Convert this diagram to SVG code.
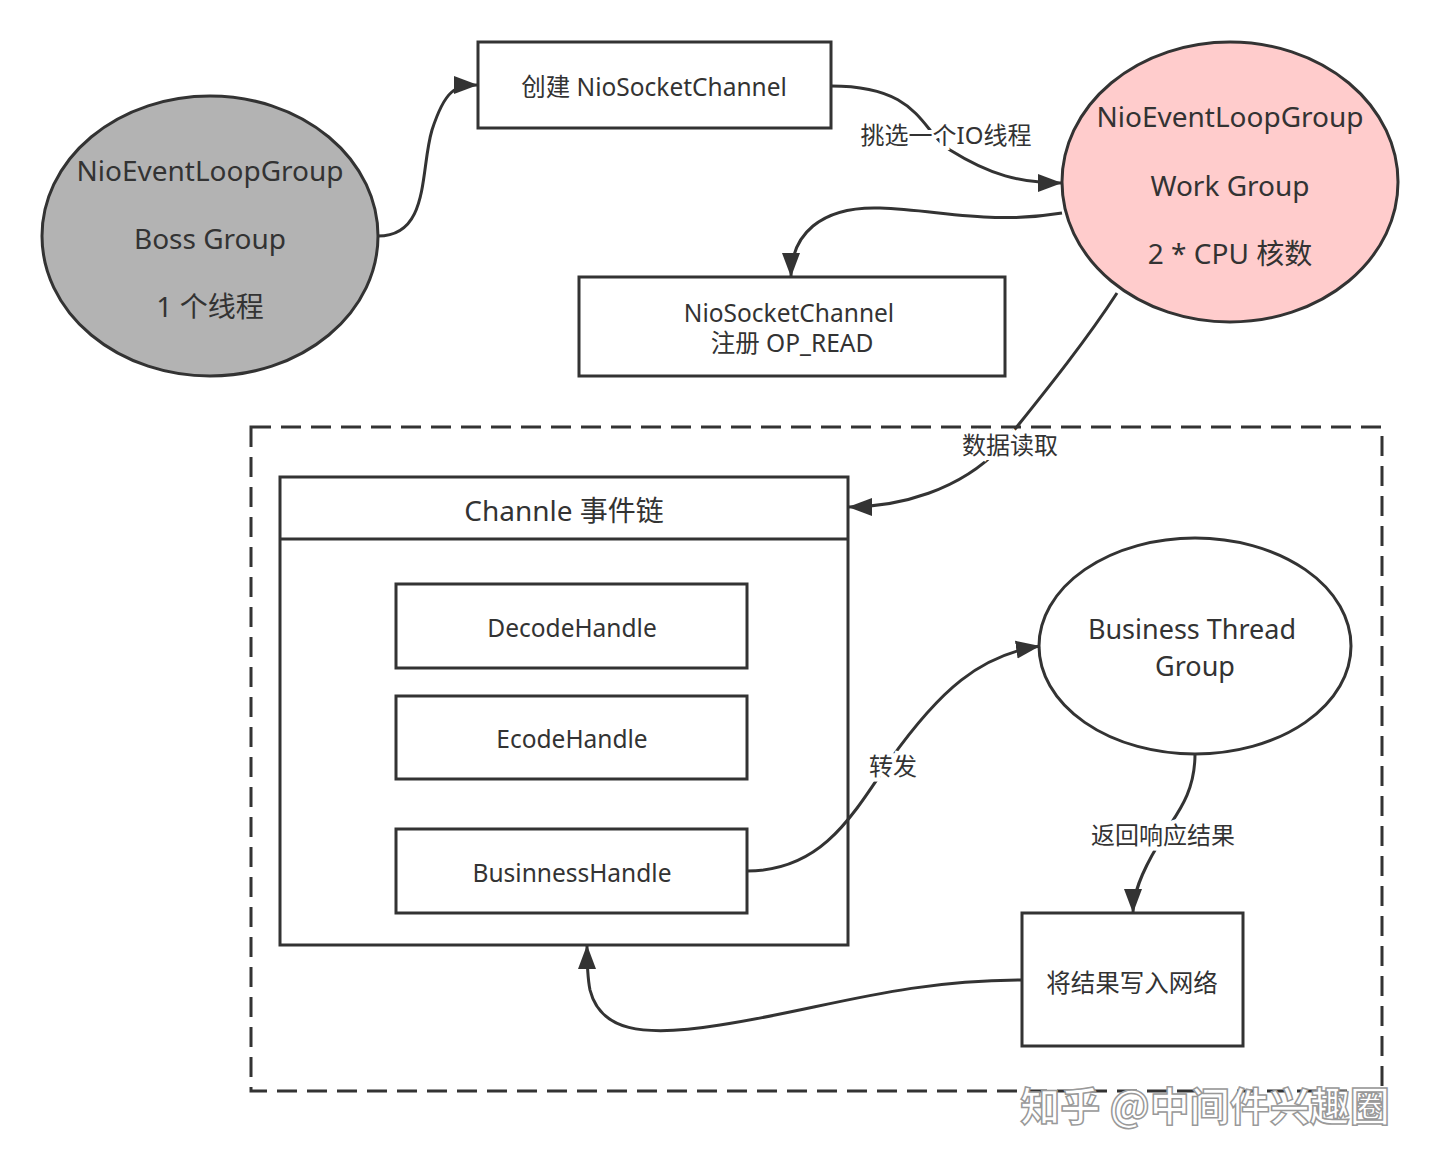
<svg xmlns="http://www.w3.org/2000/svg" width="1440" height="1164" viewBox="0 0 1440 1164">
<defs>
<marker id="arr" markerUnits="userSpaceOnUse" markerWidth="26" markerHeight="20" refX="24" refY="10" orient="auto">
<path d="M0,1 L24,10 L0,19 Z" fill="#333"/>
</marker>
<style>
.n{stroke:#333;stroke-width:3;}
.t{font-family:"Noto Sans","Noto Sans CJK SC",sans-serif;fill:#333;text-anchor:middle;}
.big{font-size:28px;}
.mid{font-size:24.5px;}
.c{fill:none;stroke:#333;stroke-width:3;marker-end:url(#arr);}
.lbl{font-family:"Noto Sans","Noto Sans CJK SC",sans-serif;fill:#333;text-anchor:middle;font-size:24px;stroke:#fff;stroke-width:8px;paint-order:stroke;}
</style>
</defs>
<rect width="1440" height="1164" fill="#fff"/>
<g id="container">
<rect x="251" y="427" width="1131" height="664" fill="none" stroke="#333" stroke-width="3" stroke-dasharray="20 10"/>
</g>
<g id="boss">
<ellipse cx="210" cy="236" rx="168" ry="140" fill="#b3b3b3" class="n"/>
<text class="t big" x="210" y="181">NioEventLoopGroup</text>
<text class="t big" x="210" y="249">Boss Group</text>
<text class="t big" x="210" y="317">1 个线程</text>
</g>
<g id="create">
<rect x="478" y="42" width="353" height="86" fill="#fff" class="n"/>
<text class="t mid" x="654" y="96">创建 NioSocketChannel</text>
</g>
<g id="work">
<ellipse cx="1230" cy="182" rx="168" ry="140" fill="#ffcccc" class="n"/>
<text class="t big" x="1230" y="127">NioEventLoopGroup</text>
<text class="t big" x="1230" y="196">Work Group</text>
<text class="t big" x="1230" y="264">2 * CPU 核数</text>
</g>
<g id="register">
<rect x="579" y="277" width="426" height="99" fill="#fff" class="n"/>
<text class="t mid" x="789" y="322">NioSocketChannel</text>
<text class="t mid" x="792" y="352">注册 OP_READ</text>
</g>
<g id="chain">
<rect x="280" y="477" width="568" height="468" fill="#fff" class="n"/>
<line x1="280" y1="539" x2="848" y2="539" class="n"/>
<text class="t big" x="564" y="521">Channle 事件链</text>
</g>
<g id="decode">
<rect x="396" y="584" width="351" height="84" fill="#fff" class="n"/>
<text class="t mid" x="572" y="637">DecodeHandle</text>
</g>
<g id="ecode">
<rect x="396" y="696" width="351" height="83" fill="#fff" class="n"/>
<text class="t mid" x="572" y="748">EcodeHandle</text>
</g>
<g id="business-handle">
<rect x="396" y="829" width="351" height="84" fill="#fff" class="n"/>
<text class="t mid" x="572" y="882">BusinnessHandle</text>
</g>
<g id="business-group">
<ellipse cx="1195" cy="646" rx="156" ry="108" fill="#fff" class="n"/>
<text class="t" x="1192" y="639" font-size="27">Business Thread</text>
<text class="t" x="1195" y="676" font-size="27">Group</text>
</g>
<g id="write">
<rect x="1022" y="913" width="221" height="133" fill="#fff" class="n"/>
<text class="t mid" x="1132" y="992">将结果写入网络</text>
</g>
<g id="connectors">
<path class="c" d="M378,236 C430,236 420,170 432,130 C445,90 455,85 478,85"/>
<path class="c" d="M831,86 C920,86 920,130 950,150 C990,175 1020,183 1062,183"/>
<path class="c" d="M1062,213 C990,225 940,210 880,208 C820,206 791,235 791,277"/>
<path class="c" d="M1117,293 C1080,350 1030,410 1000,448 C960,490 900,507 848,507"/>
<path class="c" d="M747,871 C820,871 850,820 890,760 C940,690 980,655 1040,646"/>
<path class="c" d="M1195,754 C1195,800 1170,820 1158,845 C1140,875 1133,895 1133,913"/>
<path class="c" d="M1022,980 C900,980 820,1010 720,1025 C640,1038 600,1030 590,990 C587,975 587,960 587,945"/>
<text class="lbl" x="946" y="144">挑选一个IO线程</text>
<text class="lbl" x="1010" y="454">数据读取</text>
<text class="lbl" x="893" y="775">转发</text>
<text class="lbl" x="1163" y="844">返回响应结果</text>
</g>
<text x="1205" y="1121" font-family="Noto Sans CJK SC,sans-serif" font-size="40" font-weight="bold" fill="#fff" stroke="#999" stroke-width="1.5" text-anchor="middle">知乎 @中间件兴趣圈</text>
</svg>
